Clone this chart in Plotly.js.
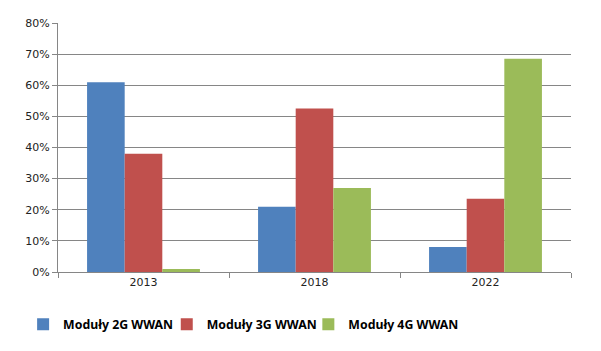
<!DOCTYPE html>
<html>
<head>
<meta charset="utf-8">
<script src="https://cdn.plot.ly/plotly-3.0.1.min.js"></script>
<style>html,body{margin:0;padding:0;background:#fff;}#chart{width:601px;height:351px;}</style>
</head>
<body>
<div id="chart"></div>
<script>
const categories = ["2013", "2018", "2022"];
const seriesNames = ["Moduły 2G WWAN", "Moduły 3G WWAN", "Moduły 4G WWAN"];
const values2G = [0.61, 0.21, 0.08];
const values3G = [0.38, 0.525, 0.235];
const values4G = [0.01, 0.27, 0.685];
const yTicks = [0, 0.1, 0.2, 0.3, 0.4, 0.5, 0.6, 0.7, 0.8];
const colors = ["#4F81BD", "#C0504D", "#9BBB59"];
const legendIds = ["legend", "legend2", "legend3"];
const legendX = [-0.068, 0.212, 0.488];

const traces = [values2G, values3G, values4G].map((v, i) => ({
  type: "bar",
  name: seriesNames[i],
  x: categories,
  y: v,
  marker: {color: colors[i]},
  legend: legendIds[i],
  hoverinfo: "none"
}));

const legendStyle = (x) => ({
  orientation: "h",
  x: x, xanchor: "left", xref: "paper",
  y: -0.21, yanchor: "middle",
  font: {size: 12.3, color: "#000", family: "Noto Sans, sans-serif", weight: "bold"},
  itemwidth: 30,
  bgcolor: "rgba(0,0,0,0)"
});

const layout = {
  width: 601, height: 351,
  margin: {l: 58, r: 30, t: 23, b: 79},
  paper_bgcolor: "#fff", plot_bgcolor: "#fff",
  barmode: "group",
  bargap: 0.34,
  bargroupgap: 0,
  font: {family: "DejaVu Sans, Verdana, sans-serif", size: 11, color: "#222"},
  xaxis: {
    type: "category",
    showgrid: false,
    showline: true, linecolor: "#868686", linewidth: 1,
    ticks: "outside", tickson: "boundaries", ticklen: 5, tickcolor: "#868686",
    tickfont: {size: 11, color: "#222"},
    zeroline: false
  },
  yaxis: {
    range: [0, 0.8],
    tickvals: yTicks,
    tickformat: ".0%",
    showgrid: true, gridcolor: "#868686", gridwidth: 1,
    showline: true, linecolor: "#868686", linewidth: 1,
    ticks: "outside", ticklen: 5, tickcolor: "#868686",
    tickfont: {size: 11, color: "#222"},
    zeroline: false
  },
  showlegend: true,
  legend: legendStyle(legendX[0]),
  legend2: legendStyle(legendX[1]),
  legend3: legendStyle(legendX[2])
};

Plotly.newPlot("chart", traces, layout, {staticPlot: true});
</script>
</body>
</html>
